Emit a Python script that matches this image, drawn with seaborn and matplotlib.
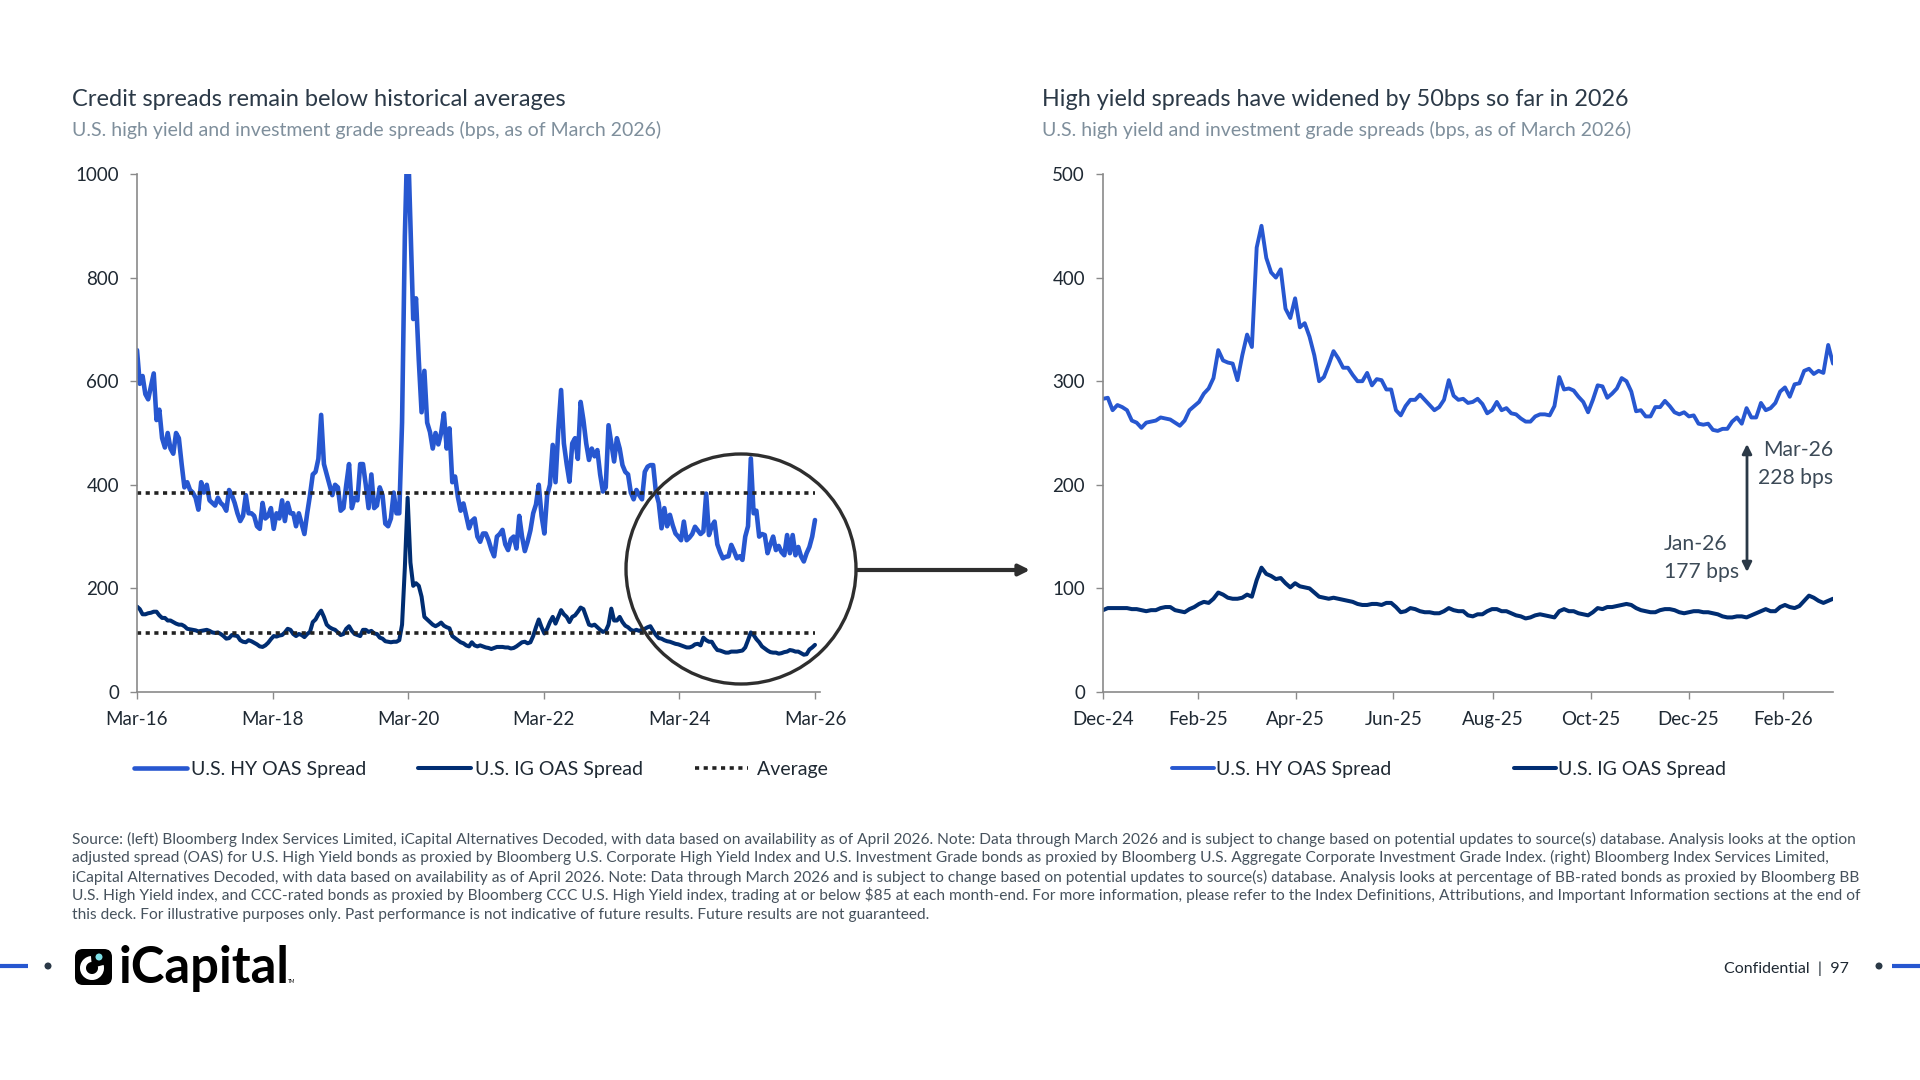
import matplotlib
matplotlib.use("Agg")
import matplotlib.pyplot as plt
import pandas as pd
import seaborn as sns
from matplotlib.patches import Circle, FancyBboxPatch, Wedge

# left chart, Mar-16 to Mar-26
left_hy = [
    660, 595, 610, 575, 565, 590, 615, 525, 545, 490, 472, 500, 470, 460, 500, 490, 440, 395, 405, 390,
    385, 375, 352, 405, 385, 400, 370, 365, 360, 375, 365, 360, 350, 390, 380, 365, 345, 330, 340, 380,
    345, 345, 340, 320, 315, 365, 335, 340, 355, 315, 345, 335, 370, 330, 365, 345, 345, 320, 345, 325,
    305, 345, 380, 420, 425, 450, 535, 440, 420, 400, 380, 400, 395, 350, 355, 400, 440, 355, 375, 370,
    440, 440, 400, 355, 420, 355, 360, 395, 380, 325, 320, 335, 385, 345, 345, 520, 880, 1087, 900, 720,
    760, 640, 540, 620, 520, 502, 470, 500, 478, 500, 538, 470, 509, 405, 416, 377, 350, 364, 340, 316,
    330, 335, 300, 290, 306, 306, 293, 275, 262, 300, 305, 313, 285, 274, 295, 300, 277, 340, 300, 272,
    290, 312, 345, 362, 400, 340, 306, 380, 400, 477, 405, 506, 583, 480, 440, 406, 480, 490, 450, 560,
    525, 480, 448, 470, 455, 467, 420, 387, 395, 515, 480, 445, 490, 470, 438, 425, 420, 385, 372, 390,
    380, 372, 425, 435, 438, 438, 385, 365, 316, 355, 320, 342, 322, 306, 300, 293, 329, 293, 298, 305,
    319, 312, 305, 310, 383, 303, 320, 329, 285, 270, 258, 261, 262, 284, 272, 258, 262, 255, 300, 320,
    451, 345, 350, 300, 305, 303, 268, 285, 300, 274, 282, 270, 264, 303, 268, 303, 264, 280, 262, 252,
    268, 280, 300, 332,
]
left_ig = [
    165, 160, 150, 150, 152, 153, 155, 155, 148, 143, 143, 138, 138, 135, 132, 130, 130, 127, 122, 121,
    120, 119, 117, 118, 119, 120, 118, 115, 114, 115, 112, 108, 103, 104, 110, 109, 108, 100, 97, 96,
    100, 98, 95, 92, 88, 87, 90, 95, 102, 108, 107, 109, 110, 115, 122, 120, 112, 108, 112, 110,
    106, 112, 116, 135, 140, 150, 157, 145, 130, 125, 122, 120, 115, 110, 112, 122, 127, 118, 112, 110,
    108, 120, 120, 116, 118, 113, 112, 105, 103, 98, 97, 96, 97, 97, 100, 130, 240, 375, 250, 205,
    210, 205, 184, 145, 140, 135, 130, 127, 130, 134, 128, 125, 123, 108, 104, 100, 96, 94, 90, 88,
    96, 90, 88, 90, 88, 86, 85, 83, 85, 87, 87, 87, 86, 86, 84, 85, 88, 92, 96, 97,
    94, 96, 108, 125, 140, 125, 113, 122, 135, 145, 132, 145, 158, 150, 145, 135, 145, 148, 155, 163,
    160, 145, 130, 128, 130, 125, 120, 116, 118, 130, 161, 138, 138, 145, 135, 128, 125, 120, 118, 120,
    118, 120, 122, 125, 127, 118, 110, 104, 103, 100, 98, 97, 95, 93, 92, 90, 88, 86, 86, 88,
    92, 93, 90, 105, 100, 97, 97, 88, 81, 80, 78, 76, 76, 78, 78, 78, 79, 80, 86, 100,
    115, 110, 102, 96, 88, 84, 80, 77, 76, 76, 74, 75, 77, 78, 81, 80, 78, 78, 75, 72,
    73, 82, 86, 91,
]
avg_hy = 385
avg_ig = 113
left_tick_labels = ["Mar-16", "Mar-18", "Mar-20", "Mar-22", "Mar-24", "Mar-26"]
left_yticks = [0, 200, 400, 600, 800, 1000]

# right chart, Dec-24 to Mar-26
right_hy = [
    283, 284, 272, 277, 275, 272, 262, 260, 255, 260, 261, 262, 265, 264, 263, 260, 257, 262, 272, 276,
    280, 288, 293, 303, 330, 320, 318, 317, 301, 325, 345, 333, 429, 450, 419, 405, 400, 408, 370, 361,
    380, 352, 356, 343, 325, 300, 304, 316, 329, 322, 313, 313, 306, 300, 300, 308, 296, 302, 301, 292,
    292, 272, 267, 276, 282, 282, 287, 282, 277, 272, 275, 282, 301, 286, 282, 283, 279, 280, 283, 278,
    269, 272, 280, 272, 274, 269, 268, 264, 261, 261, 266, 268, 268, 267, 276, 304, 292, 293, 291, 285,
    280, 270, 282, 296, 295, 284, 288, 293, 303, 300, 290, 271, 272, 266, 266, 275, 275, 281, 276, 270,
    268, 270, 266, 267, 259, 258, 259, 253, 252, 254, 254, 261, 265, 259, 274, 265, 265, 279, 272, 274,
    279, 290, 294, 285, 297, 298, 310, 312, 307, 310, 308, 335, 317,
]
right_ig = [
    79, 81, 81, 81, 81, 81, 80, 80, 79, 78, 79, 79, 81, 82, 82, 79, 78, 77, 80, 82,
    85, 87, 86, 90, 96, 94, 91, 90, 90, 91, 94, 92, 108, 120, 114, 112, 109, 110, 105, 101,
    105, 102, 101, 100, 96, 92, 91, 90, 91, 90, 89, 88, 87, 85, 84, 84, 85, 85, 84, 86,
    86, 82, 77, 78, 81, 80, 78, 77, 77, 76, 76, 78, 81, 79, 78, 78, 74, 73, 75, 75,
    78, 80, 80, 78, 78, 76, 74, 73, 71, 72, 74, 75, 74, 73, 72, 78, 80, 78, 78, 76,
    75, 74, 77, 81, 80, 82, 82, 83, 84, 85, 84, 81, 79, 78, 77, 77, 79, 80, 80, 79,
    77, 76, 77, 78, 78, 77, 77, 76, 75, 73, 72, 72, 73, 73, 72, 74, 76, 78, 80, 78,
    78, 82, 84, 82, 81, 83, 88, 93, 91, 88, 86, 88, 90,
]
right_tick_labels = ["Dec-24", "Feb-25", "Apr-25", "Jun-25", "Aug-25", "Oct-25", "Dec-25", "Feb-26"]
right_yticks = [0, 100, 200, 300, 400, 500]

footnote = [
    "Source: (left) Bloomberg Index Services Limited, iCapital Alternatives Decoded, with data based on availability as of April 2026. Note: Data through March 2026 and is subject to change based on potential updates to source(s) database. Analysis looks at the option",
    "adjusted spread (OAS) for U.S. High Yield bonds as proxied by Bloomberg U.S. Corporate High Yield Index and U.S. Investment Grade bonds as proxied by Bloomberg U.S. Aggregate Corporate Investment Grade Index. (right) Bloomberg Index Services Limited,",
    "iCapital Alternatives Decoded, with data based on availability as of April 2026. Note: Data through March 2026 and is subject to change based on potential updates to source(s) database. Analysis looks at percentage of BB-rated bonds as proxied by Bloomberg BB",
    "U.S. High Yield index, and CCC-rated bonds as proxied by Bloomberg CCC U.S. High Yield index, trading at or below $85 at each month-end. For more information, please refer to the Index Definitions, Attributions, and Important Information sections at the end of",
    "this deck. For illustrative purposes only. Past performance is not indicative of future results. Future results are not guaranteed.",
]

BLUE = "#2757D0"
NAVY = "#002D72"
SLATE = "#2B3947"
GREY = "#7F8F9C"
AXIS = "#8A8A8A"
W, H = 1920, 1080

sns.set_theme(style="white")
plt.rcParams["font.family"] = ["Lato", "DejaVu Sans"]


def axes_rect(x0, x1, y0, y1):
    return [x0 / W, 1 - y1 / H, (x1 - x0) / W, (y1 - y0) / H]


def style_axis(ax, ticks, labels, yticks):
    ax.set_xticks(ticks)
    ax.set_xticklabels(labels)
    ax.set_yticks(yticks)
    ax.set_xlabel("")
    ax.set_ylabel("")
    sns.despine(ax=ax)
    for side in ["left", "bottom"]:
        ax.spines[side].set_color(AXIS)
        ax.spines[side].set_linewidth(1.2)
    ax.tick_params(axis="x", pad=9)
    ax.tick_params(axis="y", pad=8)
    ax.tick_params(axis="both", length=5, width=1, color=AXIS, labelsize=13.5,
                   labelcolor="#1F2933", bottom=True, left=True)


fig = plt.figure(figsize=(19.2, 10.8), dpi=100, facecolor="white")

# left panel
ax1 = fig.add_axes(axes_rect(137, 820, 174, 692))
left_dates = pd.date_range("2016-03-31", "2026-03-31", periods=len(left_hy))
sns.lineplot(x=left_dates, y=left_hy, color=BLUE, lw=3.3, label="U.S. HY OAS Spread", ax=ax1)
sns.lineplot(x=left_dates, y=left_ig, color=NAVY, lw=2.9, label="U.S. IG OAS Spread", ax=ax1)
avg_span = [left_dates[0], left_dates[-1]]
sns.lineplot(x=avg_span, y=[avg_hy, avg_hy], color="#222222", lw=2.6, label=" Average", ax=ax1,
             linestyle=(0, (1.15, 1.25)))
sns.lineplot(x=avg_span, y=[avg_ig, avg_ig], color="#222222", lw=2.6, ax=ax1,
             linestyle=(0, (1.15, 1.25)))
ax1.set_xlim(pd.Timestamp("2016-03-31"), pd.Timestamp("2026-04-27"))
ax1.set_ylim(0, 1000)
style_axis(ax1, pd.to_datetime([f"{y}-03-31" for y in range(2016, 2027, 2)]), left_tick_labels, left_yticks)
ax1.legend(loc="center", bbox_to_anchor=(481 / W, 1 - 769 / H), bbox_transform=fig.transFigure, ncol=3,
           frameon=False, fontsize=14, handlelength=2.7, handletextpad=0.2, columnspacing=2.7, labelcolor="#1F2933")

# right panel
ax2 = fig.add_axes(axes_rect(1103, 1833, 174, 692))
right_dates = pd.date_range("2024-12-31", "2026-03-31", periods=len(right_hy))
sns.lineplot(x=right_dates, y=right_hy, color=BLUE, lw=2.8, label="U.S. HY OAS Spread", ax=ax2)
sns.lineplot(x=right_dates, y=right_ig, color=NAVY, lw=2.9, label="U.S. IG OAS Spread", ax=ax2)
ax2.set_xlim(pd.Timestamp("2024-12-31"), pd.Timestamp("2026-03-31"))
ax2.set_ylim(0, 500)
month_ends = pd.date_range("2024-12-31", "2026-02-28", freq="2ME")
style_axis(ax2, month_ends, right_tick_labels, right_yticks)
ax2.legend(loc="center", bbox_to_anchor=(1449 / W, 1 - 769 / H), bbox_transform=fig.transFigure, ncol=2,
           frameon=False, fontsize=14, handlelength=2.15, handletextpad=0.1, columnspacing=6.3, labelcolor="#1F2933")

# everything placed by hand goes on a full-page pixel overlay
ov = fig.add_axes([0, 0, 1, 1], zorder=5)
ov.set_xlim(0, W)
ov.set_ylim(H, 0)
ov.axis("off")
ov.patch.set_alpha(0)

ov.text(72, 99, "Credit spreads remain below historical averages", fontsize=17, color=SLATE, va="center")
ov.text(72, 130, "U.S. high yield and investment grade spreads (bps, as of March 2026)", fontsize=14, color=GREY, va="center")
ov.text(1042, 99, "High yield spreads have widened by 50bps so far in 2026", fontsize=16.8, color=SLATE, va="center")
ov.text(1042, 130, "U.S. high yield and investment grade spreads (bps, as of March 2026)", fontsize=14, color=GREY, va="center")

# zoom circle and arrow
ov.add_patch(Circle((741, 569), 115, fill=False, ec="#2E2E2E", lw=2.4))
ov.annotate("", xy=(1030, 570), xytext=(857, 570),
            arrowprops=dict(arrowstyle="-|>", color="#2E2E2E", lw=3, mutation_scale=16, shrinkA=0, shrinkB=0))

# Jan-26 to Mar-26 marker
ov.annotate("", xy=(1747, 444), xytext=(1747, 572),
            arrowprops=dict(arrowstyle="<|-|>", color=SLATE, lw=2, mutation_scale=14, shrinkA=0, shrinkB=0))
ov.text(1833, 450, "Mar-26", fontsize=15.2, color="#3C4A57", ha="right", va="center")
ov.text(1833, 478, "228 bps", fontsize=15.2, color="#3C4A57", ha="right", va="center")
ov.text(1664, 544, "Jan-26", fontsize=15.2, color="#3C4A57", ha="left", va="center")
ov.text(1664, 572, "177 bps", fontsize=15.2, color="#3C4A57", ha="left", va="center")

for y, line in zip([839, 857, 877, 895, 915], footnote):
    ov.text(72, y, line, fontsize=11.15, color="#46525D", va="center")

# footer marks and logo
ov.plot([0, 28], [966, 966], color=BLUE, lw=3, solid_capstyle="butt")
ov.plot([1892, 1920], [966, 966], color=BLUE, lw=3, solid_capstyle="butt")
ov.add_patch(Circle((48, 966), 3.5, color=SLATE, lw=0))
ov.add_patch(Circle((1879, 966), 3.5, color=SLATE, lw=0))
ov.add_patch(FancyBboxPatch((80, 954), 27, 26, boxstyle="round,pad=5,rounding_size=8", fc="black", ec="none"))
ov.add_patch(Wedge((92, 968), 12, -15, 265, width=6, fc="white", ec="none"))
ov.add_patch(Circle((99, 957), 3.5, color="#7FE0E6", lw=0))
ov.text(119, 983, "iCapital", fontsize=36.5, color="black", va="baseline", fontweight="bold")
ov.text(288, 983, "TM", fontsize=3.5, color="black", va="baseline")
ov.text(1849, 969, "Confidential  |  97", fontsize=11.5, color="#1F2933", ha="right", va="center")

plt.savefig("out.png", dpi=100, facecolor="white")
plt.close()
